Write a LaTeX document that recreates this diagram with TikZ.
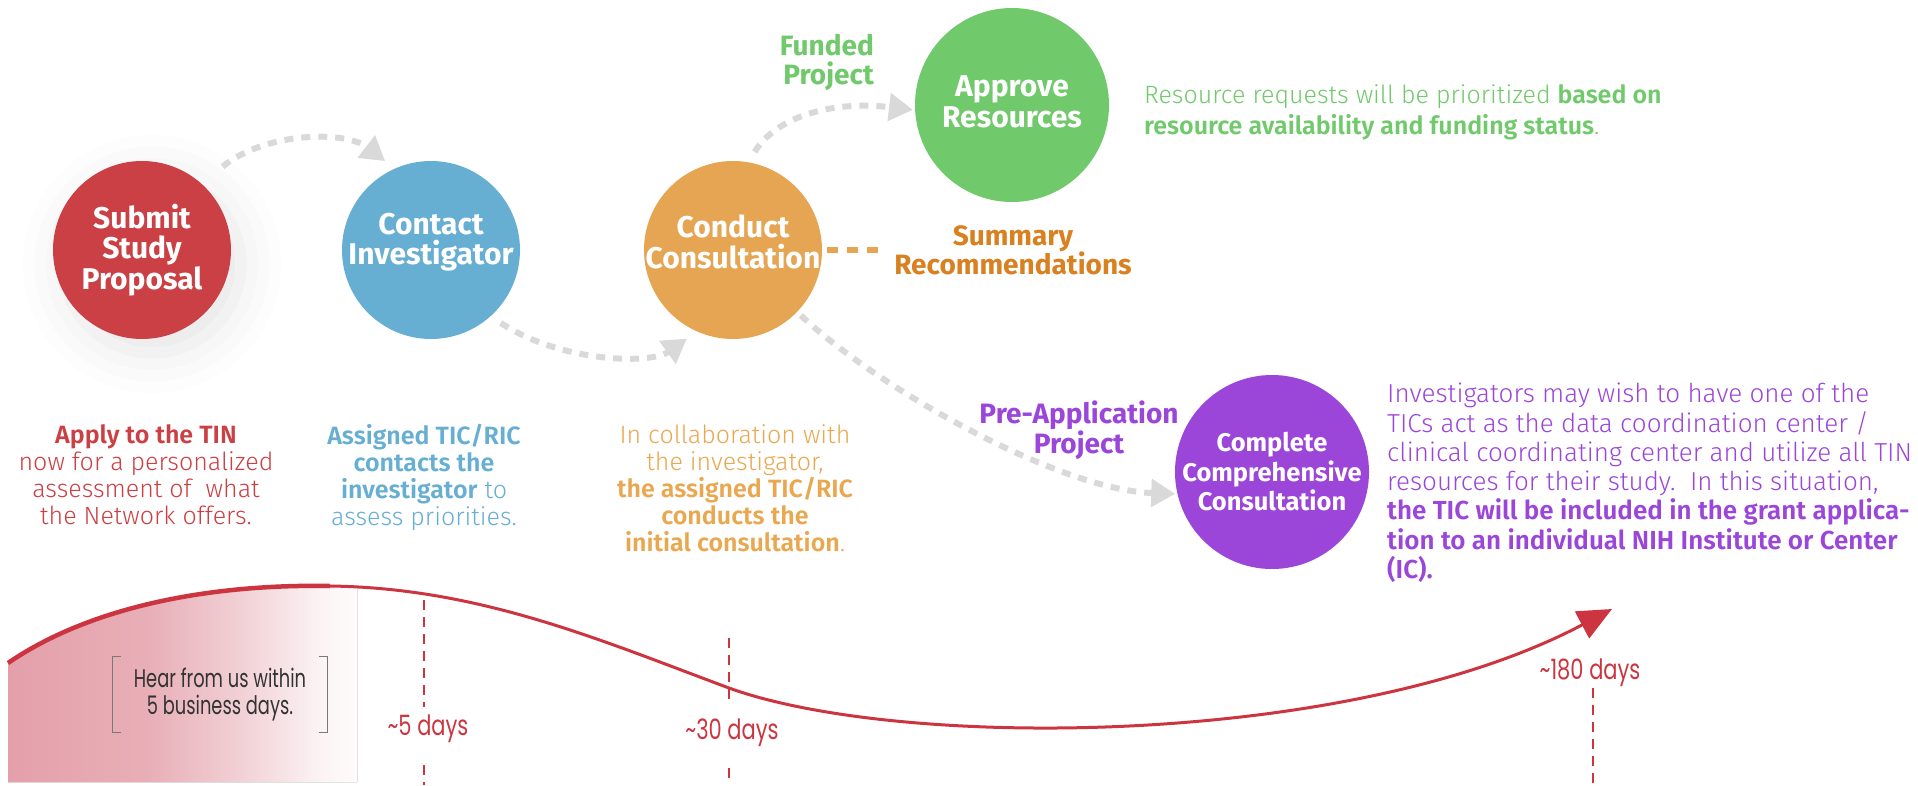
\documentclass[tikz,border=0pt]{standalone}
\usepackage{fontspec}
\setmainfont{Fira Sans}
\newfontfamily\lightfont{Fira Sans Light}[BoldFont={Fira Sans SemiBold}]
\newfontfamily\roundfont[FakeStretch=0.7]{Poppins}
\newfontfamily\dayfont[FakeStretch=0.75]{Poppins}
\usetikzlibrary{arrows.meta,shadows.blur,calc}
\definecolor{cred}{RGB}{203,64,68}
\definecolor{cblue}{RGB}{102,174,210}
\definecolor{corange}{RGB}{229,165,82}
\definecolor{corangetxt}{RGB}{233,168,80}
\definecolor{cgreen}{RGB}{112,201,106}
\definecolor{cpurple}{RGB}{155,69,217}
\definecolor{cgrey}{RGB}{217,217,217}
\definecolor{cdarkorange}{RGB}{217,128,32}
\definecolor{ctime}{RGB}{204,53,64}
\definecolor{cpink}{RGB}{228,160,170}
\definecolor{cbracket}{RGB}{120,120,120}
\definecolor{ctext}{RGB}{51,51,51}
\pgfdeclarehorizontalshading{tfade}{100bp}{color(0bp)=(cpink); color(25bp)=(cpink); color(45bp)=(cpink!85); color(58bp)=(cpink!50); color(70bp)=(cpink!12); color(75bp)=(cpink!4); color(100bp)=(white)}
\begin{document}
\begin{tikzpicture}[x=1pt,y=-1pt,
  circ/.style={circle, inner sep=0pt},
  circtxt/.style={inner sep=0pt, text=white, align=center, font=\bfseries\fontsize{30}{30.5}\selectfont},
  para/.style={align=center, inner sep=0pt, font=\lightfont\fontsize{25}{27}\selectfont},
  lbl/.style={align=center, inner sep=0pt, font=\bfseries\fontsize{28}{29.5}\selectfont},
  flow/.style={cgrey, line width=6pt, dash pattern=on 9pt off 8pt, -{Triangle[width=27pt,length=24pt]}},
  tick/.style={ctime, line width=2pt, dash pattern=on 10pt off 7pt},
  daylbl/.style={text=ctime, inner sep=0pt, font=\dayfont\fontsize{28}{30}\selectfont},
]
\useasboundingbox (0,0) rectangle (1918,785);

% timeline fill and curve
\fill[shading=tfade]
  (8,663) .. controls (100,600) and (230,584) .. (330,586) -- (357,587) -- (357,782) -- (8,782) -- cycle;
\coordinate (tstart) at (8,663);
\coordinate (tpeak) at (330,586);
\coordinate (tmid) at (729,688);
\coordinate (tend) at (1612,609);
\draw[ctime, line width=4.5pt] (tstart) .. controls (100,600) and (230,584) .. (tpeak);
\draw[ctime, line width=3pt, -{Triangle[width=30pt,length=34pt]}]
  (tpeak) .. controls (480,588) and (600,640) .. (tmid)
  .. controls (900,750) and (1350,748) .. (tend);

% bracket box
\node[font=\roundfont\fontsize{25.5}{27}\selectfont, text=ctext, align=center,
      minimum width=214pt, minimum height=75pt, inner sep=0pt] (hear) at (220,694.5)
  {Hear from us within\\5 business days.};
\draw[cbracket, line width=1.2pt] ([xshift=8pt]hear.north west) -- (hear.north west) -- (hear.south west) -- ([xshift=8pt]hear.south west);
\draw[cbracket, line width=1.2pt] ([xshift=-8pt]hear.north east) -- (hear.north east) -- (hear.south east) -- ([xshift=-8pt]hear.south east);

% day markers
\node[daylbl] (d5) at (428,729) {\textasciitilde5 days};
\node[daylbl] (d30) at (732,733) {\textasciitilde30 days};
\node[daylbl] (d180) at (1590,673) {\textasciitilde180 days};
\coordinate (m5a) at (424,600); \coordinate (m5b) at (424,707);
\coordinate (m5c) at (424,765); \coordinate (m5d) at (424,785);
\coordinate (m30a) at (729,638); \coordinate (m30b) at (729,703);
\coordinate (m30c) at (729,768); \coordinate (m30d) at (729,785);
\coordinate (m180a) at (1593,688); \coordinate (m180b) at (1593,785);
\draw[tick] (m5a) -- (m5b); \draw[tick] (m5c) -- (m5d);
\draw[tick] (m30a) -- (m30b); \draw[tick] (m30c) -- (m30d);
\draw[tick] (m180a) -- (m180b);

% circles
\node[circ, fill=cred, minimum size=178pt,
      blur shadow={shadow xshift=10pt, shadow yshift=-14pt, shadow blur radius=40pt, shadow opacity=10}] (red) at (142,250) {};
\node[circ, fill=cblue, minimum size=178pt] (blue) at (431,250) {};
\node[circ, fill=corange, minimum size=178pt] (orange) at (733,250) {};
\node[circ, fill=cgreen, minimum size=194pt] (green) at (1012,105) {};
\node[circ, fill=cpurple, minimum size=194pt] (purple) at (1272,472) {};
\node[circtxt] (redt) at (red.center) {Submit\\Study\\Proposal};
\node[circtxt] (bluet) at ([yshift=8pt]blue.center) {Contact\\Investigator};
\node[circtxt] (oranget) at ([yshift=8pt]orange.center) {Conduct\\Consultation};
\node[circtxt] (greent) at ([yshift=3pt]green.center) {Approve\\Resources};
\node[circtxt, font=\bfseries\fontsize{25.5}{29.5}\selectfont] (purplet) at (purple.center) {Complete\\Comprehensive\\Consultation};

% labels
\node[lbl, text=cgreen, align=right, anchor=north east] (funded) at (874,34) {Funded\\Project};
\node[lbl, text=cdarkorange, anchor=north] (summary) at (1013,225) {Summary\\Recommendations};
\node[lbl, text=cpurple, anchor=north] (preapp) at (1079,401) {Pre-Application\\Project};

% flow arrows
\draw[flow, shorten <=27pt, shorten >=12pt] (red.48) .. controls (265,132) and (345,130) .. (blue.114);
\draw[flow, shorten <=12pt, shorten >=12pt] (blue.-48) .. controls (560,362) and (650,365) .. (orange.-114);
\draw[flow, shorten <=12pt, shorten >=2pt] (orange.80) .. controls (775,118) and (830,100) .. (green.183);
\draw[flow, shorten <=5pt, shorten >=2pt] (orange.-44) .. controls (880,390) and (1060,490) .. (purple.193);
\draw[corange, line width=6pt, dash pattern=on 11pt off 9pt, shorten <=5pt, shorten >=10pt] (orange.east) -- (orange.east -| summary.west);

% paragraphs
\node[para, text=cred, anchor=north] (redtxt) at (146,424)
  {\textbf{Apply to the TIN}\\now for a personalized\\assessment of\ \ what\\the Network offers.};
\node[para, text=cblue, anchor=north] (bluetxt) at (424,424)
  {\textbf{Assigned TIC/RIC}\\\textbf{contacts the}\\\textbf{investigator} to\\assess priorities.};
\node[para, text=corangetxt, anchor=north] (orangetxt) at (735,424)
  {In collaboration with\\the investigator,\\\textbf{the assigned TIC/RIC}\\\textbf{conducts the}\\\textbf{initial consultation}.};
\node[para, text=cgreen, align=left, anchor=north west, font=\lightfont\fontsize{25}{31}\selectfont] (greentxt) at (1144,84)
  {Resource requests will be prioritized \textbf{based on}\\\textbf{resource availability and funding status}.};
\node[para, text=cpurple, align=left, anchor=north west, font=\lightfont\fontsize{26}{29.3}\selectfont] (purpletxt) at (1387,383)
  {Investigators may wish to have one of the\\
   TICs act as the data coordination center /\\
   clinical coordinating center and utilize all TIN\\
   resources for their study.\ \ In this situation,\\
   \textbf{the TIC will be included in the grant applica-}\\
   \textbf{tion to an individual NIH Institute or Center}\\
   \textbf{(IC).}};
\end{tikzpicture}
\end{document}
